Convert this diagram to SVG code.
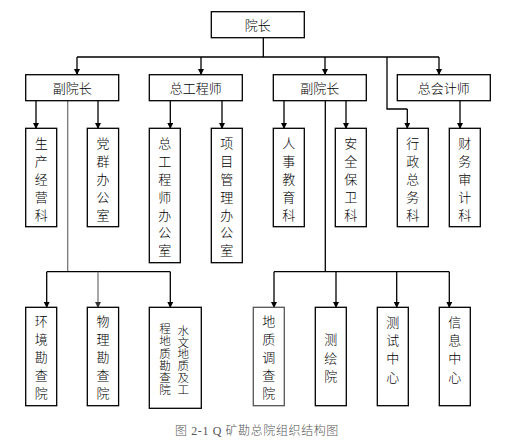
<svg xmlns="http://www.w3.org/2000/svg" width="517" height="444" viewBox="0 0 517 444">
<defs>
<marker id="ah" markerWidth="6" markerHeight="6" refX="3" refY="5" markerUnits="userSpaceOnUse" viewBox="0 0 6 6">
<path d="M0,0 L6,0 L3,6 z" fill="#000"/>
</marker>
<marker id="ahg" markerWidth="6" markerHeight="6" refX="3" refY="5" markerUnits="userSpaceOnUse" viewBox="0 0 6 6">
<path d="M0,0 L6,0 L3,6 z" fill="#333"/>
</marker>
<style>
rect{fill:#fff;stroke:#000;stroke-width:1.3}
text{font-family:"Noto Sans CJK SC","Noto Sans CJK TC",sans-serif;font-size:13px;font-weight:300;fill:#000;text-anchor:middle}
.c{fill:none;stroke:#000;stroke-width:1.3}
.g{stroke:#777}
.v{font-size:11.5px;writing-mode:vertical-rl}
.cap{font-family:"Liberation Serif","Noto Sans CJK SC",serif;font-size:12px;fill:#555;letter-spacing:0.6px}
</style>
</defs>
<g id="connectors">
<path class="c" d="M263.3,38 V57 M77,57 H439 M387,57 V109 H407.3"/>
<path class="c" d="M77,57 V74" marker-end="url(#ah)"/>
<path class="c" d="M201,57 V74" marker-end="url(#ah)"/>
<path class="c" d="M325,57 V74" marker-end="url(#ah)"/>
<path class="c" d="M439,57 V74" marker-end="url(#ah)"/>
<path class="c" d="M407.3,109 V128" marker-end="url(#ah)"/>
<path class="c" d="M36,101 V128" marker-end="url(#ah)"/>
<path class="c" d="M98,101 V128" marker-end="url(#ah)"/>
<path class="c" d="M170.3,101 V128" marker-end="url(#ah)"/>
<path class="c" d="M222,101 V128" marker-end="url(#ah)"/>
<path class="c" d="M284,101 V128" marker-end="url(#ah)"/>
<path class="c" d="M346,101 V128" marker-end="url(#ah)"/>
<path class="c" d="M460,101 V128" marker-end="url(#ah)"/>
<path class="c g" d="M67.7,101 V271.7"/>
<path class="c" d="M46.7,271.7 H170.3 M325.3,101 V271.7 M274,271.7 H449.3"/>
<path class="c" d="M46.7,271.7 V307" marker-end="url(#ah)"/>
<path class="c g" d="M98,271.7 V307" marker-end="url(#ahg)"/>
<path class="c" d="M170.3,271.7 V307" marker-end="url(#ah)"/>
<path class="c" d="M274,271.7 V307" marker-end="url(#ah)"/>
<path class="c" d="M336,271.7 V307" marker-end="url(#ah)"/>
<path class="c" d="M396.7,271.7 V307" marker-end="url(#ah)"/>
<path class="c" d="M449.3,271.7 V307" marker-end="url(#ah)"/>
</g>
<g id="n-yuanzhang"><rect x="211.3" y="11.7" width="93" height="26"/><text x="257.8" y="29.7">院长</text></g>
<g id="n-fuyuanzhang1"><rect x="25.7" y="74.7" width="93" height="26"/><text x="72.2" y="92.7">副院长</text></g>
<g id="n-zonggongchengshi"><rect x="149.3" y="74.7" width="93" height="26"/><text x="195.8" y="92.7">总工程师</text></g>
<g id="n-fuyuanzhang2"><rect x="273.3" y="74.7" width="93" height="26"/><text x="319.8" y="92.7">副院长</text></g>
<g id="n-zongkuaijishi"><rect x="397.3" y="74.7" width="93" height="26"/><text x="443.8" y="92.7">总会计师</text></g>

<g id="n-shengchan"><rect x="25.7" y="128.3" width="31" height="98.4"/><text><tspan x="41.2" y="148.3">生</tspan><tspan x="41.2" y="166.1">产</tspan><tspan x="41.2" y="183.9">经</tspan><tspan x="41.2" y="201.7">营</tspan><tspan x="41.2" y="219.5">科</tspan></text></g>
<g id="n-dangqun"><rect x="87.3" y="128.3" width="31.3" height="98.4"/><text><tspan x="103" y="148.3">党</tspan><tspan x="103" y="166.1">群</tspan><tspan x="103" y="183.9">办</tspan><tspan x="103" y="201.7">公</tspan><tspan x="103" y="219.5">室</tspan></text></g>
<g id="n-zgcsbgs"><rect x="149.3" y="128.3" width="31" height="134.4"/><text><tspan x="164.8" y="148.3">总</tspan><tspan x="164.8" y="166.1">工</tspan><tspan x="164.8" y="183.9">程</tspan><tspan x="164.8" y="201.7">师</tspan><tspan x="164.8" y="219.5">办</tspan><tspan x="164.8" y="237.3">公</tspan><tspan x="164.8" y="255.1">室</tspan></text></g>
<g id="n-xmglbgs"><rect x="211.3" y="128.3" width="31" height="134.4"/><text><tspan x="226.8" y="148.3">项</tspan><tspan x="226.8" y="166.1">目</tspan><tspan x="226.8" y="183.9">管</tspan><tspan x="226.8" y="201.7">理</tspan><tspan x="226.8" y="219.5">办</tspan><tspan x="226.8" y="237.3">公</tspan><tspan x="226.8" y="255.1">室</tspan></text></g>
<g id="n-renshi"><rect x="273.3" y="128.3" width="31" height="98.4"/><text><tspan x="288.8" y="148.3">人</tspan><tspan x="288.8" y="166.1">事</tspan><tspan x="288.8" y="183.9">教</tspan><tspan x="288.8" y="201.7">育</tspan><tspan x="288.8" y="219.5">科</tspan></text></g>
<g id="n-anquan"><rect x="335.3" y="128.3" width="31" height="98.4"/><text><tspan x="350.8" y="148.3">安</tspan><tspan x="350.8" y="166.1">全</tspan><tspan x="350.8" y="183.9">保</tspan><tspan x="350.8" y="201.7">卫</tspan><tspan x="350.8" y="219.5">科</tspan></text></g>
<g id="n-xingzheng"><rect x="397.3" y="128.3" width="31" height="98.4"/><text><tspan x="412.8" y="148.3">行</tspan><tspan x="412.8" y="166.1">政</tspan><tspan x="412.8" y="183.9">总</tspan><tspan x="412.8" y="201.7">务</tspan><tspan x="412.8" y="219.5">科</tspan></text></g>
<g id="n-caiwu"><rect x="449.3" y="128.3" width="31" height="98.4"/><text><tspan x="464.8" y="148.3">财</tspan><tspan x="464.8" y="166.1">务</tspan><tspan x="464.8" y="183.9">审</tspan><tspan x="464.8" y="201.7">计</tspan><tspan x="464.8" y="219.5">科</tspan></text></g>

<g id="n-huanjing"><rect x="25.7" y="307.3" width="31" height="98.4"/><text><tspan x="41.2" y="326.4">环</tspan><tspan x="41.2" y="344.2">境</tspan><tspan x="41.2" y="362">勘</tspan><tspan x="41.2" y="379.8">查</tspan><tspan x="41.2" y="397.6">院</tspan></text></g>
<g id="n-wuli"><rect x="87.3" y="307.3" width="31.3" height="98.4"/><text><tspan x="103" y="326.4">物</tspan><tspan x="103" y="344.2">理</tspan><tspan x="103" y="362">勘</tspan><tspan x="103" y="379.8">查</tspan><tspan x="103" y="397.6">院</tspan></text></g>
<g id="n-shuiwen"><rect x="149.3" y="307.3" width="52" height="101"/><text class="v" x="183.3" y="360" style="letter-spacing:0.2px">水文地质及工</text><text class="v" x="165" y="359.7" style="letter-spacing:0.8px">程地质勘查院</text></g>
<g id="n-dizhi"><rect x="253.3" y="307.3" width="31" height="98.4" style="stroke:#555"/><text><tspan x="268.8" y="326.4">地</tspan><tspan x="268.8" y="344.2">质</tspan><tspan x="268.8" y="362">调</tspan><tspan x="268.8" y="379.8">查</tspan><tspan x="268.8" y="397.6">院</tspan></text></g>
<g id="n-cehui"><rect x="315.3" y="307.3" width="31" height="98.4"/><text><tspan x="330.8" y="344.2">测</tspan><tspan x="330.8" y="362.5">绘</tspan><tspan x="330.8" y="380.6">院</tspan></text></g>
<g id="n-ceshi"><rect x="377.3" y="307.3" width="31" height="98.4"/><text><tspan x="392.8" y="326.6">测</tspan><tspan x="392.8" y="344.9">试</tspan><tspan x="392.8" y="363.2">中</tspan><tspan x="392.8" y="381.5">心</tspan></text></g>
<g id="n-xinxi"><rect x="439.3" y="307.3" width="31" height="98.4"/><text><tspan x="454.8" y="326.6">信</tspan><tspan x="454.8" y="344.9">息</tspan><tspan x="454.8" y="363.2">中</tspan><tspan x="454.8" y="381.5">心</tspan></text></g>

<text class="cap" x="257" y="435">图 2-1 Q 矿勘总院组织结构图</text>
</svg>
